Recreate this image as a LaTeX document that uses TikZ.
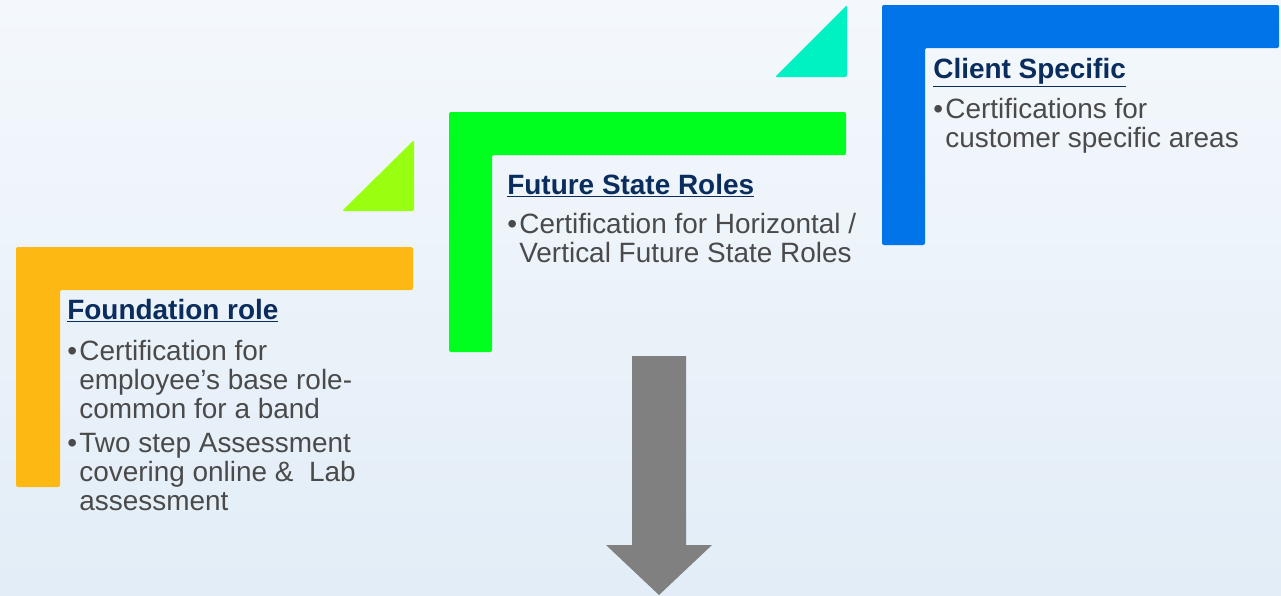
\documentclass[tikz,border=0pt]{standalone}
\usepackage{fontspec}
\setmainfont{Liberation Sans}
\usepackage{xcolor}
\usepackage{tikz}
\usetikzlibrary{positioning}
\definecolor{bgtop}{HTML}{F4F8FC}
\definecolor{bgbot}{HTML}{E2EDF7}
\definecolor{orangebar}{HTML}{FDB813}
\definecolor{limetri}{HTML}{99FF11}
\definecolor{greenbar}{HTML}{00FF1E}
\definecolor{tealtri}{HTML}{00F2C3}
\definecolor{bluebar}{HTML}{0074E8}
\definecolor{titleblue}{HTML}{0B2D5E}
\definecolor{bodygray}{HTML}{4A4A4A}
\definecolor{arrowgray}{HTML}{808080}
\newcommand{\bul}{\makebox[0.24cm][l]{\textbullet}}
\newcommand{\ind}{\hspace*{0.24cm}}
\tikzset{
    bar/.style = {rounded corners=0.04cm},
    title/.style = {anchor=base west, inner sep=0pt, text=titleblue, font=\fontsize{15.9}{16.5}\selectfont\bfseries},
    body/.style = {anchor=base west, inner sep=0pt, align=left, text=bodygray, font=\fontsize{15.9}{16.5}\selectfont},
}
\begin{document}
\begin{tikzpicture}[x=0.02cm, y=-0.02cm]
\useasboundingbox (0,0) rectangle (1281,595);
\shade[top color=bgtop, bottom color=bgbot] (0,0) rectangle (1281,595);
%
\fill[orangebar, bar] (16,247) -- (413,247) -- (413,290) -- (60,290) -- (60,487) -- (16,487) -- cycle;
\fill[limetri, bar] (414,140) -- (414,211) -- (342,211) -- cycle;
\fill[greenbar, bar] (449,112) -- (846,112) -- (846,155) -- (492,155) -- (492,352) -- (449,352) -- cycle;
\fill[tealtri, bar] (847,5) -- (847,77) -- (775,77) -- cycle;
\fill[bluebar, bar] (882,5) -- (1279,5) -- (1279,48) -- (925,48) -- (925,245) -- (882,245) -- cycle;
%
\fill[arrowgray] (632,356) -- (686,356) -- (686,545) -- (712,545) -- (659,595) -- (606,545) -- (632,545) -- cycle;
%
% body nodes sit on the baseline of their last line
\node[title] at (67,319) (found) {\underline{Foundation role}};
\node[body] at (67,418) (foundA) {\bul Certification for\\ \ind employee’s base role-\\ \ind common for a band};
\node[body] at (67,510) (foundB) {\bul Two step Assessment\\ \ind covering online \&\ \ Lab\\ \ind assessment};
%
\node[title] at (507,194) (future) {\underline{Future State Roles}};
\node[body] at (507,262) (futureA) {\bul Certification for Horizontal /\\ \ind Vertical Future State Roles};
%
\node[title] at (933,78) (client) {\underline{Client Specific}};
\node[body] at (933,147) (clientA) {\bul Certifications for\\ \ind customer specific areas};
\end{tikzpicture}
\end{document}
